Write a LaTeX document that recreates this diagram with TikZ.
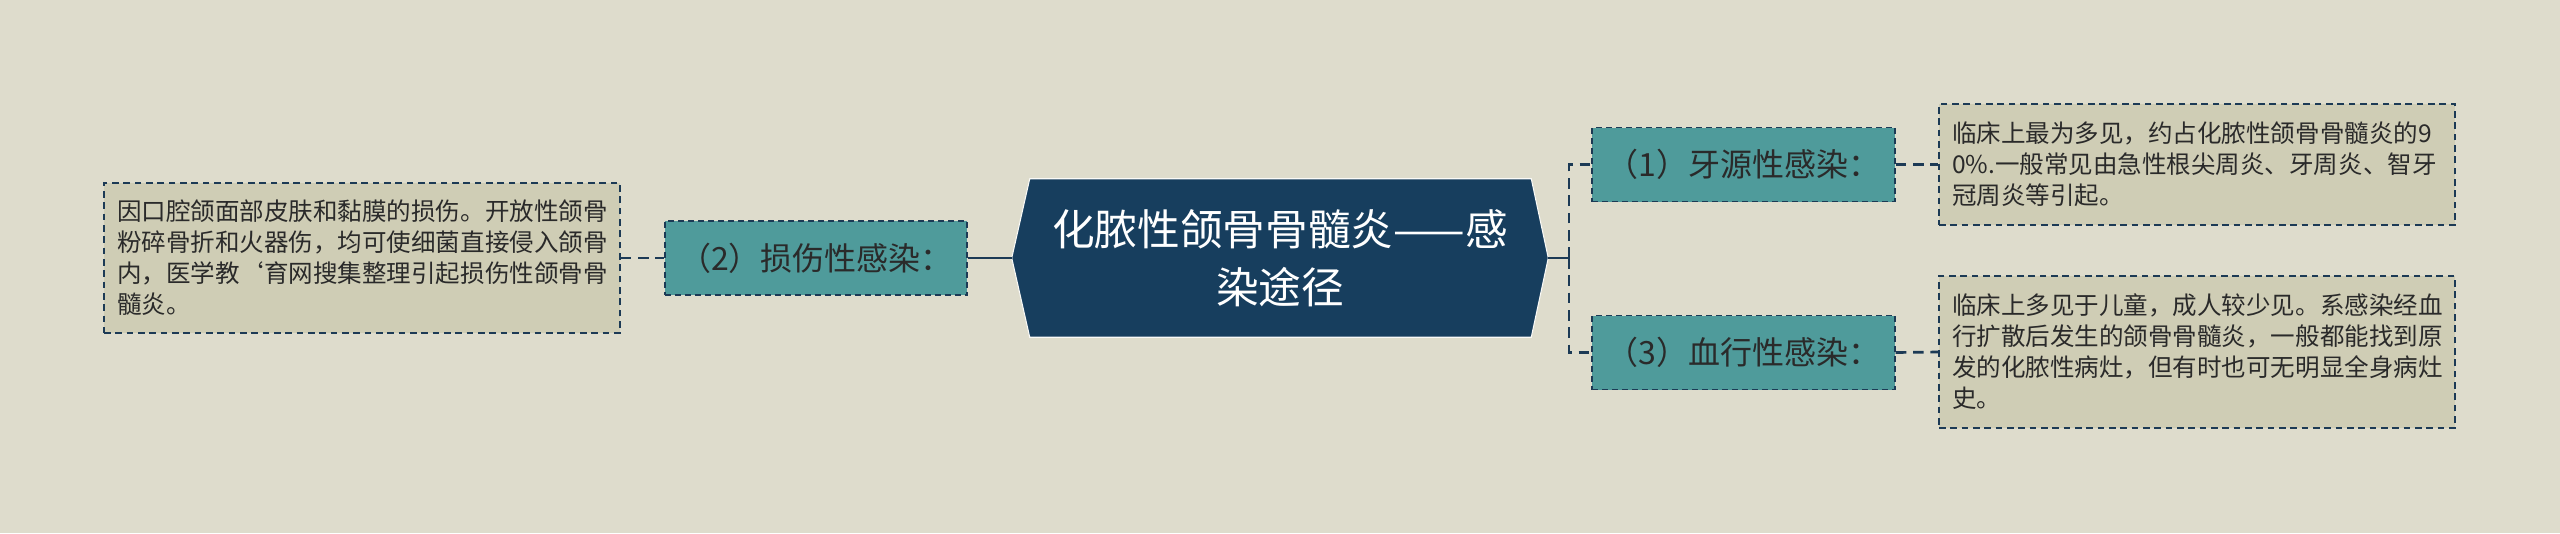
\documentclass[tikz,border=0pt]{standalone}
\usepackage{fontspec}
\setmainfont{Noto Sans CJK SC}
\usetikzlibrary{calc}
\definecolor{bgc}{HTML}{DEDCCC}
\definecolor{tealc}{HTML}{4F9B9B}
\definecolor{leafc}{HTML}{CFCDB5}
\definecolor{navyc}{HTML}{173E5E}
\definecolor{edgec}{HTML}{1C3A55}
\definecolor{txtc}{HTML}{2A2A2A}
\begin{document}
\begin{tikzpicture}[x=0.75pt,y=-0.75pt,
  catbox/.style={rectangle, fill=tealc, draw=edgec, line width=1.3pt,
    dash pattern=on 4.5pt off 3pt, minimum width=227pt, minimum height=55.5pt,
    inner sep=0pt, font=\fontsize{24}{28}\selectfont, text=txtc},
  leafbox/.style={rectangle, fill=leafc, draw=edgec, line width=1.2pt,
    dash pattern=on 5pt off 3.5pt, text width=367.5pt, inner xsep=9.75pt,
    inner ysep=0pt, align=left, font=\fontsize{18.4}{23.25}\selectfont, text=txtc},
  link/.style={draw=edgec, line width=2pt, dash pattern=on 8pt off 5pt},
  solidlink/.style={draw=edgec, line width=2.2pt},
  hexshape/.style={fill=navyc, draw=white!85!bgc, line width=0.8pt},
  centertext/.style={align=center, text=white, font=\fontsize{32}{43.5}\selectfont, inner sep=0pt}
]
\fill[bgc] (0,0) rectangle (2560,533);
\useasboundingbox (0,0) rectangle (2560,533);

% central topic
\node[rectangle, minimum width=402pt, minimum height=118.5pt, inner sep=0pt] (c) at (1280,258) {};
\path[hexshape] (c.west) -- ($(c.north west)+(18,0)$) -- ($(c.north east)+(-17,0)$) -- (c.east)
  -- ($(c.south east)+(-17,0)$) -- ($(c.south west)+(18,0)$) -- cycle;
\node[centertext] (ct) at (1280,258) {化脓性颌骨骨髓炎——感\\染途径};

% category boxes
\node[catbox] (cat2) at (816,258) {（2）损伤性感染：};
\node[catbox] (cat1) at (1743.5,164.5) {（1）牙源性感染：};
\node[catbox] (cat3) at (1743.5,352.5) {（3）血行性感染：};

% leaves
\node[leafbox, minimum height=112.5pt] (leaf2) at (362,258)
  {因口腔颌面部皮肤和黏膜的损伤。开放性颌骨\\粉碎骨折和火器伤，均可使细菌直接侵入颌骨\\内，医学教\symbol{96}育网搜集整理引起损伤性颌骨骨\\髓炎。};
\node[leafbox, minimum height=90.75pt] (leaf1) at (2197,164.5)
  {临床上最为多见，约占化脓性颌骨骨髓炎的9\\0\%.一般常见由急性根尖周炎、牙周炎、智牙\\冠周炎等引起。};
\node[leafbox, minimum height=114pt] (leaf3) at (2197,352)
  {临床上多见于儿童，成人较少见。系感染经血\\行扩散后发生的颌骨骨髓炎，一般都能找到原\\发的化脓性病灶，但有时也可无明显全身病灶\\史。};

% connectors
\coordinate (j) at (1569,258);
\draw[link] (leaf2.east) -- (cat2.west);
\draw[solidlink] (cat2.east) -- (c.west);
\draw[solidlink] (c.east) -- (j);
\draw[link] (j) |- (cat1.west);
\draw[link] (j) |- (cat3.west);
\draw[link] (cat1.east) -- (leaf1.west);
\draw[link] (cat3.east) -- (leaf3.west);
\end{tikzpicture}
\end{document}
